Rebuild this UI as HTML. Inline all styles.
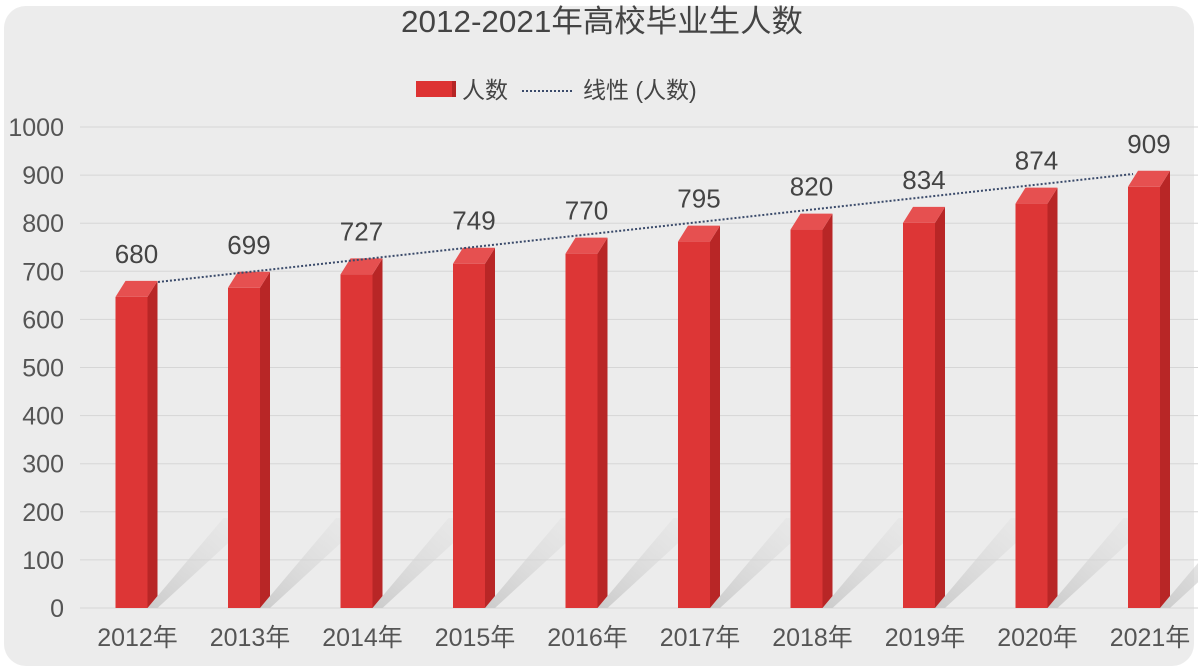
<!DOCTYPE html>
<html><head><meta charset="utf-8"><style>
html,body{margin:0;padding:0;background:#fff;}
svg{display:block;font-family:"Liberation Sans","Noto Sans CJK SC",sans-serif;}
</style></head><body>
<svg id="s" width="1198" height="672" viewBox="0 0 1198 672" xmlns="http://www.w3.org/2000/svg">
<defs>
<linearGradient id="sh" x1="0" y1="1" x2="1" y2="0">
<stop offset="0" stop-color="#c8c8c8" stop-opacity="0.9"/>
<stop offset="1" stop-color="#e0e0e0" stop-opacity="0.2"/>
</linearGradient>
</defs>
<rect x="4" y="6" width="1190" height="660" rx="22" fill="#ececec"/>
<text x="602" y="32" font-size="31" fill="#444" text-anchor="middle" textLength="402" lengthAdjust="spacingAndGlyphs">2012-2021年高校毕业生人数</text>
<rect x="416" y="81" width="36" height="16" fill="#dd3333"/>
<rect x="452" y="81" width="4" height="16" fill="#b52525"/>
<text x="462" y="98" font-size="23" fill="#444">人数</text>
<line x1="522" y1="91" x2="572" y2="91" stroke="#3a4a6a" stroke-width="2" stroke-dasharray="2,2"/>
<text x="583" y="98" font-size="23" fill="#444">线性 (人数)</text>
<g id="g"></g>
</svg>
<script>
var g=document.getElementById('g'),ns='http://www.w3.org/2000/svg';
function el(t,a,txt){var e=document.createElementNS(ns,t);for(var k in a)e.setAttribute(k,a[k]);if(txt)e.textContent=txt;g.appendChild(e);return e;}
var y0=608,sc=0.481;
for(var k=0;k<=10;k++){var y=y0-k*48.1;
el('line',{x1:80,y1:y,x2:1198,y2:y,stroke:'#d6d6d6','stroke-width':1});
el('text',{x:64,y:y+9,'font-size':25,fill:'#555','text-anchor':'end'},String(k*100));}
var v=[680,699,727,749,770,795,820,834,874,909];
for(var i=0;i<10;i++){var x=115.5+i*112.5;
el('polygon',{points:(x+32)+','+y0+' '+(x+42)+','+y0+' '+(x+140)+','+(y0-90)+' '+(x+108)+','+(y0-90),fill:'url(#sh)'});}
for(var i=0;i<10;i++){var x=115.5+i*112.5,yb=y0-v[i]*sc,yf=yb+16;
el('rect',{x:x,y:yf,width:32,height:y0-yf,fill:'#dd3636'});
el('polygon',{points:(x+32)+','+yf+' '+(x+42)+','+yb+' '+(x+42)+','+(y0-12)+' '+(x+32)+','+y0,fill:'#b82626'});
el('polygon',{points:x+','+yf+' '+(x+32)+','+yf+' '+(x+42)+','+yb+' '+(x+10)+','+yb,fill:'#e65050'});
el('text',{x:x+21,y:yb-18,'font-size':26,fill:'#444','text-anchor':'middle'},String(v[i]));
el('text',{x:x+22,y:646,'font-size':25,fill:'#555','text-anchor':'middle'},(2012+i)+'年');}
el('line',{x1:158,y1:282,x2:1133,y2:174,stroke:'#3a4a6a','stroke-width':2,'stroke-dasharray':'2,2'});
</script>
</body></html>
